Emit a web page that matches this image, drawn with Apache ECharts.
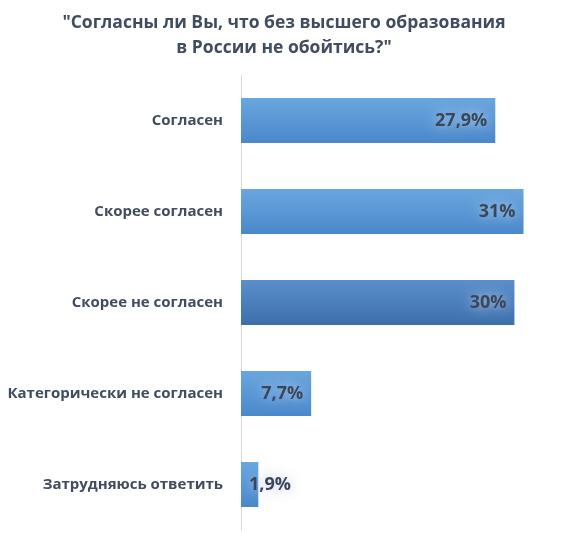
<!DOCTYPE html>
<html>
<head>
<meta charset="utf-8">
<script src="https://cdn.jsdelivr.net/npm/echarts@6/dist/echarts.min.js"></script>
<style>
  html, body { margin: 0; padding: 0; background: #fff; }
  #chart { width: 568px; height: 540px; }
</style>
</head>
<body>
<div id="chart"></div>
<script>
// survey answers, top to bottom
const answers = ['Согласен', 'Скорее согласен', 'Скорее не согласен', 'Категорически не согласен', 'Затрудняюсь ответить'];
const shares = [27.9, 31, 30, 7.7, 1.9];
const shareLabels = ['27,9%', '31%', '30%', '7,7%', '1,9%'];

const textColor = '#414c5e';

function barGradient(top, bottom) {
  return new echarts.graphic.LinearGradient(0, 0, 0, 1, [
    { offset: 0, color: top },
    { offset: 1, color: bottom }
  ]);
}

// 3rd bar is a bit darker in the original
const barData = shares.map(function (v, i) {
  const dark = i === 2;
  const item = {
    value: v,
    itemStyle: {
      color: dark ? barGradient('#5a8fcc', '#3d6fab') : barGradient('#6aa6de', '#4a88cb')
    },
    label: { formatter: shareLabels[i] }
  };
  if (v < 5) {
    item.label.position = 'insideLeft';
    item.label.distance = 8;
    item.label.textShadowColor = 'rgba(190,200,240,1)';
  }
  return item;
});

const chart = echarts.init(document.getElementById('chart'));
chart.setOption({
  backgroundColor: '#ffffff',
  animation: false,
  title: {
    text: '"Согласны ли Вы, что без высшего образования\nв России не обойтись?"',
    left: 'center',
    top: 6,
    textStyle: {
      fontFamily: 'Open Sans',
      fontSize: 17.5,
      fontWeight: 'bold',
      color: textColor,
      lineHeight: 25
    }
  },
  grid: {
    left: 241,
    right: 8,
    top: 75,
    bottom: 10
  },
  xAxis: {
    type: 'value',
    min: 0,
    max: 35,
    show: false
  },
  yAxis: {
    type: 'category',
    data: answers,
    inverse: true,
    axisLine: { lineStyle: { color: '#d9d9d9', width: 1 } },
    axisTick: { show: false },
    axisLabel: {
      margin: 18,
      fontFamily: 'Open Sans',
      fontSize: 15,
      fontWeight: 'bold',
      color: textColor
    }
  },
  series: [{
    type: 'bar',
    data: barData,
    barWidth: 45,
    label: {
      show: true,
      position: 'insideRight',
      distance: 8,
      fontFamily: 'Open Sans',
      fontSize: 18,
      fontWeight: 'bold',
      color: '#3b4759',
      textShadowColor: 'rgba(255,255,255,0.6)',
      textShadowBlur: 12
    }
  }]
});
</script>
</body>
</html>
